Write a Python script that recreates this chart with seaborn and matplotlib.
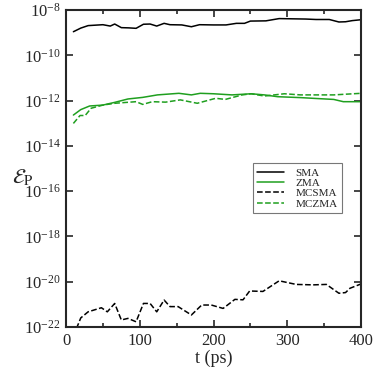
import numpy as np
import pandas as pd
import matplotlib
matplotlib.use("Agg")
import matplotlib.pyplot as plt
import seaborn as sns
from matplotlib.ticker import FixedLocator, MultipleLocator, LogFormatterSciNotation

# values, log10 of E_P
t_sma = [10, 20, 30, 40, 50, 60, 66, 75, 85, 95, 105, 114, 123, 133, 141, 157, 170, 181, 200,
         217, 231, 242, 250, 271, 289, 307, 325, 339, 357, 370, 379, 388, 400]
e_sma = [-8.96, -8.80, -8.69, -8.67, -8.65, -8.71, -8.62, -8.78, -8.79, -8.81, -8.63, -8.62,
         -8.71, -8.59, -8.65, -8.66, -8.74, -8.65, -8.66, -8.66, -8.59, -8.59, -8.49, -8.48,
         -8.38, -8.39, -8.40, -8.42, -8.42, -8.53, -8.52, -8.47, -8.43]

t_zma = [10, 20, 32, 50, 66, 84, 104, 124, 153, 170, 182, 200, 225, 251, 269, 287, 318,
         340, 363, 376, 400]
e_zma = [-12.64, -12.40, -12.24, -12.20, -12.08, -11.93, -11.86, -11.75, -11.68, -11.75,
         -11.68, -11.70, -11.75, -11.70, -11.75, -11.83, -11.87, -11.91, -11.95, -12.05, -12.05]

t_mcsma = [10, 20, 30, 48, 56, 66, 75, 84, 95, 105, 114, 123, 133, 141, 152, 170, 184, 197,
           213, 229, 240, 249, 267, 289, 312, 335, 353, 370, 379, 385, 400]
e_mcsma = [-22.4, -21.6, -21.33, -21.15, -21.33, -20.96, -21.69, -21.62, -21.77, -20.96,
           -20.96, -21.33, -20.81, -21.10, -21.10, -21.47, -21.03, -21.03, -21.18, -20.78,
           -20.80, -20.41, -20.43, -19.96, -20.12, -20.14, -20.12, -20.51, -20.48, -20.29, -20.10]

t_mczma = [10, 19, 26, 34, 50, 66, 95, 104, 117, 135, 155, 178, 203, 216, 239, 251, 269,
           296, 318, 363, 400]
e_mczma = [-13.01, -12.66, -12.66, -12.34, -12.20, -12.12, -12.05, -12.17, -12.05, -12.07,
           -11.97, -12.12, -11.90, -11.95, -11.75, -11.70, -11.80, -11.70, -11.75, -11.75, -11.68]

series = [
    ("SMA", t_sma, e_sma, "black", "-"),
    ("ZMA", t_zma, e_zma, "#1f9f1f", "-"),
    ("MCSMA", t_mcsma, e_mcsma, "black", "--"),
    ("MCZMA", t_mczma, e_mczma, "#1f9f1f", "--"),
]

sns.set_style("ticks")
plt.rcParams["font.family"] = ["Liberation Serif", "DejaVu Serif"]
plt.rcParams["mathtext.fontset"] = "stix"

fig = plt.figure(figsize=(3.74, 3.74), dpi=100)
ax = fig.add_axes([0.1765, 0.1257, 0.7888, 0.8476])

for name, t, e, col, ls in series:
    df = pd.DataFrame({"t": t, "E": 10.0 ** np.array(e)})
    sns.lineplot(data=df, x="t", y="E", ax=ax, color=col, linestyle=ls, lw=1.1,
                 label=name)

ax.set_yscale("log")
ax.set_xlim(0, 400)
ax.set_ylim(1e-22, 1e-8)
ax.xaxis.set_major_locator(MultipleLocator(100))
ax.xaxis.set_minor_locator(MultipleLocator(50))
ax.yaxis.set_major_locator(FixedLocator([10.0 ** k for k in range(-22, -7, 2)]))
ax.yaxis.set_minor_locator(FixedLocator([]))
ax.yaxis.set_major_formatter(LogFormatterSciNotation())

ax.tick_params(which="both", direction="in", top=True, right=True, labelsize=12, width=1.2)
ax.tick_params(which="major", length=5, pad=4)
ax.tick_params(which="minor", length=3)
for s in ax.spines.values():
    s.set_linewidth(1.5)

ax.set_xlabel("t (ps)", fontsize=13, labelpad=1)
ax.set_ylabel(r"$\mathcal{E}_\mathrm{P}$", fontsize=15, rotation=0, va="center")
ax.yaxis.set_label_coords(-0.145, 0.47)

leg = ax.legend(loc="upper left", bbox_to_anchor=(0.634, 0.516), fontsize=8,
                frameon=True, fancybox=False, handlelength=2.4, borderpad=0.4,
                labelspacing=0.05, handletextpad=1.0, borderaxespad=0)
leg.get_frame().set_edgecolor("#555555")
leg.get_frame().set_linewidth(0.8)

fig.savefig("out.png", dpi=100)
